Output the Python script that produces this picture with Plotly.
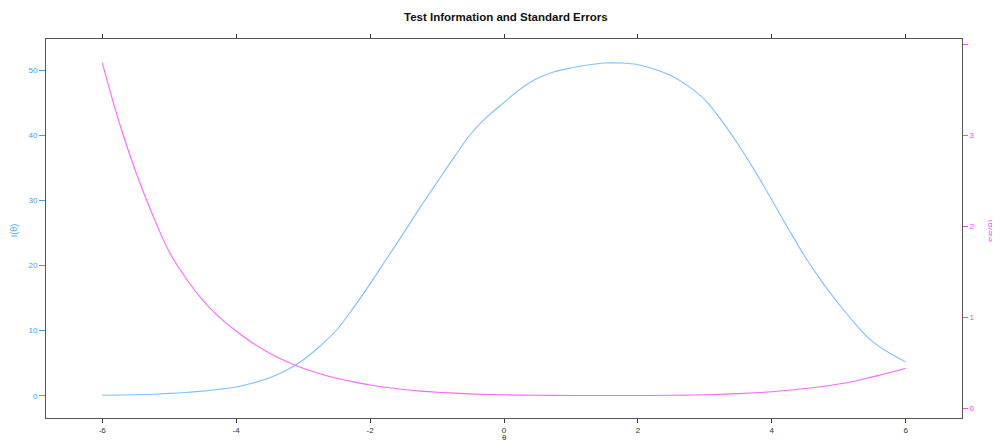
import plotly.graph_objects as go

theta = [-6.0, -5.75, -5.5, -5.25, -5.0, -4.75, -4.5, -4.25, -4.0, -3.75, -3.5, -3.25,
         -3.0, -2.75, -2.5, -2.25, -2.0, -1.75, -1.5, -1.25, -1.0, -0.75, -0.5, -0.25,
         0.0, 0.25, 0.5, 0.75, 1.0, 1.25, 1.5, 1.75, 2.0, 2.25, 2.5, 2.75,
         3.0, 3.25, 3.5, 3.75, 4.0, 4.25, 4.5, 4.75, 5.0, 5.25, 5.5, 5.75, 6.0]
info = [0.07, 0.10, 0.15, 0.23, 0.35, 0.50, 0.70, 0.98, 1.35, 1.95, 2.75, 3.9,
        5.5, 7.6, 10.1, 13.5, 17.2, 21.1, 25.0, 29.0, 32.8, 36.6, 40.2, 42.9,
        45.1, 47.2, 48.8, 49.8, 50.4, 50.85, 51.15, 51.15, 50.9, 50.2, 49.2, 47.6,
        45.5, 42.3, 38.6, 34.5, 30.1, 25.6, 21.3, 17.5, 14.1, 11.0, 8.35, 6.6, 5.2]
se = [3.80, 3.15, 2.60, 2.13, 1.72, 1.43, 1.19, 1.00, 0.85, 0.715, 0.605, 0.515,
      0.44, 0.38, 0.33, 0.29, 0.255, 0.228, 0.206, 0.189, 0.176, 0.166, 0.158, 0.152,
      0.148, 0.145, 0.143, 0.142, 0.141, 0.140, 0.140, 0.140, 0.140, 0.141, 0.143, 0.145,
      0.148, 0.154, 0.161, 0.171, 0.182, 0.198, 0.217, 0.239, 0.266, 0.30, 0.345, 0.39, 0.44]

x_ticks = [-6, -4, -2, 0, 2, 4, 6]
y_ticks = [0, 10, 20, 30, 40, 50]
y2_ticks = [0, 1, 2, 3, 4]
y2_labels = ["0", "1", "2", "3", ""]

BLUE_LINE = "#7fc0ff"
BLUE_TXT = "#3d9eff"
MAG_LINE = "#ff66ff"
MAG_TXT = "#ff44ff"
BOX = "#555555"

fig = go.Figure()
fig.add_trace(go.Scatter(x=theta, y=info, mode="lines",
                         line=dict(color=BLUE_LINE, width=1.1, shape="spline", smoothing=1.0),
                         yaxis="y", showlegend=False))
fig.add_trace(go.Scatter(x=theta, y=se, mode="lines",
                         line=dict(color=MAG_LINE, width=1.1, shape="spline", smoothing=1.0),
                         yaxis="y2", showlegend=False))

# page body has an 8px margin, so the figure is shifted by 8px
PW, PH = 916, 379.3

fig.update_layout(
    width=992, height=433,
    margin=dict(l=38, r=38, t=31, b=23, autoexpand=False),
    paper_bgcolor="white", plot_bgcolor="white",
    font=dict(family="Liberation Sans, Arial, sans-serif"),
    xaxis=dict(range=[-6.84, 6.84], tickvals=x_ticks, ticktext=[str(v) for v in x_ticks],
               showline=True, linecolor=BOX, linewidth=1, mirror="ticks",
               ticks="outside", ticklen=4, tickcolor="#333333", tickwidth=1, automargin=False,
               tickfont=dict(size=8, color="#333333"), showgrid=False, zeroline=False),
    yaxis=dict(range=[-3.43, 54.85], tickvals=y_ticks, ticktext=[str(v) for v in y_ticks],
               showline=True, linecolor=BOX, linewidth=1, automargin=False,
               ticks="outside", ticklen=6, tickcolor=BLUE_TXT, tickwidth=1,
               tickfont=dict(size=8, color=BLUE_TXT), showgrid=False, zeroline=False),
    yaxis2=dict(range=[-0.107, 4.06], tickvals=y2_ticks, ticktext=y2_labels,
                overlaying="y", side="right", automargin=False,
                showline=True, linecolor=BOX, linewidth=1,
                ticks="outside", ticklen=5, tickcolor=MAG_TXT, tickwidth=1,
                tickfont=dict(size=8, color=MAG_TXT), showgrid=False, zeroline=False),
    annotations=[
        dict(text="<b>Test Information and Standard Errors</b>", xref="paper", yref="paper",
             x=(506 - 46) / PW, y=(441 - 17 - 23) / PH, xanchor="center", yanchor="middle",
             showarrow=False, font=dict(size=11.5, color="#111111")),
        dict(text="I(θ)", xref="paper", yref="paper", x=(14 - 46) / PW, y=(441 - 230 - 23) / PH,
             xanchor="center", yanchor="middle", textangle=-90, showarrow=False,
             font=dict(size=9, color=BLUE_TXT)),
        dict(text="SE(θ)", xref="paper", yref="paper", x=(992 - 46) / PW, y=(441 - 230 - 23) / PH,
             xanchor="center", yanchor="middle", textangle=-90, showarrow=False,
             font=dict(size=9, color=MAG_TXT)),
        dict(text="θ", xref="paper", yref="paper", x=(504 - 46) / PW, y=(441 - 431 - 23) / PH,
             xanchor="center", yanchor="top", showarrow=False,
             font=dict(size=8, color="#333333")),
    ],
)

fig.write_html("out.html")
